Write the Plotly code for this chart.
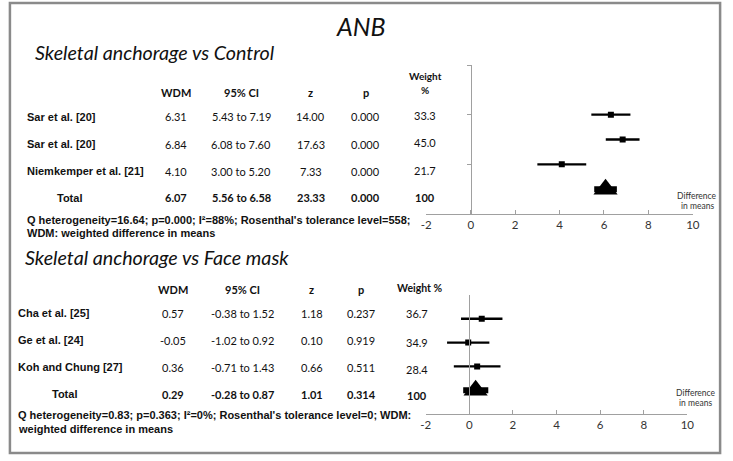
import plotly.graph_objects as go

W, H = 733, 461

# ---------------- data ----------------
title = "ANB"
sec1_title = "Skeletal anchorage vs Control"
sec1_studies = ["Sar et al. [20]", "Sar et al. [20]", "Niemkemper et al. [21]"]
sec1_wdm = [6.31, 6.84, 4.10]
sec1_lo = [5.43, 6.08, 3.00]
sec1_hi = [7.19, 7.60, 5.20]
sec1_z = [14.00, 17.63, 7.33]
sec1_p = [0.000, 0.000, 0.000]
sec1_w = [33.3, 45.0, 21.7]
sec1_total = dict(wdm=6.07, lo=5.56, hi=6.58, z=23.33, p=0.000, w="100")
sec1_note = ["Q heterogeneity=16.64; p=0.000; I²=88%; Rosenthal's tolerance level=558;",
             "WDM: weighted difference in means"]

sec2_title = "Skeletal anchorage vs Face mask"
sec2_studies = ["Cha et al. [25]", "Ge et al. [24]", "Koh and Chung [27]"]
sec2_wdm = [0.57, -0.05, 0.36]
sec2_lo = [-0.38, -1.02, -0.71]
sec2_hi = [1.52, 0.92, 1.43]
sec2_z = [1.18, 0.10, 0.66]
sec2_p = [0.237, 0.919, 0.511]
sec2_w = [36.7, 34.9, 28.4]
sec2_total = dict(wdm=0.29, lo=-0.28, hi=0.87, z=1.01, p=0.314, w="100")
sec2_note = ["Q heterogeneity=0.83; p=0.363; I²=0%; Rosenthal's tolerance level=0; WDM:",
             "weighted difference in means"]

x_ticks = [-2, 0, 2, 4, 6, 8, 10]
x_tick_labels = ["-2", "0", "2", "4", "6", "8", "10"]
x_range = [-2, 10]

# ---------------- helpers ----------------
def PX(px):
    return px / W

def PY(py):
    return 1 - py / H

CAL = "Lato, 'Open Sans', sans-serif"
ARI = "'Liberation Sans', Arial, sans-serif"
BLK = "#111111"

fig = go.Figure()
annotations = []

def txt(x, y, s, size, family=CAL, bold=False, italic=False, anchor="center", color=BLK):
    if bold:
        s = "<b>" + s + "</b>"
    if italic:
        s = "<i>" + s + "</i>"
    annotations.append(dict(x=PX(x), y=PY(y), xref="paper", yref="paper", text=s,
                            showarrow=False, xanchor=anchor, yanchor="middle",
                            borderpad=0, borderwidth=0,
                            font=dict(family=family, size=size, color=color)))

def section(idx, studies, wdm, lo, hi, z, p, w, total, note, sect_title, cfg):
    xa = "x" if idx == 1 else "x2"
    ya = "y" if idx == 1 else "y2"
    n = len(studies)
    ypos = [n + 1 - i for i in range(n)]
    fig.add_trace(go.Scatter(
        x=wdm, y=ypos, mode="markers", xaxis=xa, yaxis=ya,
        marker=dict(symbol="square", size=6, color="black"),
        error_x=dict(type="data", symmetric=False,
                     array=[h - m for h, m in zip(hi, wdm)],
                     arrayminus=[m - l for m, l in zip(wdm, lo)],
                     width=0, thickness=2.4, color="black"),
        showlegend=False, hoverinfo="skip"))
    fig.add_trace(go.Scatter(
        x=[total["lo"], total["hi"]], y=[1, 1], mode="lines", xaxis=xa, yaxis=ya,
        line=dict(color="black", width=6), showlegend=False, hoverinfo="skip"))
    fig.add_trace(go.Scatter(
        x=[total["wdm"]], y=[1], mode="markers", xaxis=xa, yaxis=ya,
        marker=dict(symbol="triangle-up", size=21, color="black"),
        showlegend=False, hoverinfo="skip"))

    txt(cfg["title_x"], cfg["title_y"], sect_title, 19.7, italic=True, anchor="left")
    hy = cfg["hdr_y"]
    cx = cfg["cols"]
    hs = 11
    txt(cx[0], hy, "WDM", hs, bold=True)
    txt(cx[1], hy, "95% CI", hs, bold=True)
    txt(cx[2], hy, "z", hs, bold=True)
    txt(cx[3], hy, "p", hs, bold=True)
    if cfg["weight_split"]:
        txt(cx[4], cfg["w_hdr_y"][0], "Weight", 10, bold=True)
        txt(cx[4], cfg["w_hdr_y"][1], "%", 10, bold=True)
    else:
        txt(cx[4] + 3, cfg["w_hdr_y"][0], "Weight %", 10.5, bold=True)
    rows = cfg["rows"]
    ns = 11
    for i in range(n):
        ry = rows[i]
        txt(cfg["label_x"], ry, studies[i], 11, family=ARI, bold=True, anchor="left")
        txt(cx[0], ry, f"{wdm[i]:.2f}", ns)
        txt(cx[1], ry, f"{lo[i]:.2f} to {hi[i]:.2f}", ns)
        txt(cx[2], ry, f"{z[i]:.2f}", ns)
        txt(cx[3], ry, f"{p[i]:.3f}", ns)
        txt(cx[4], cfg["w_rows"][i], f"{w[i]:.1f}", ns)
    ry = rows[n]
    txt(cfg["total_x"], ry, "Total", 11, family=ARI, bold=True)
    txt(cx[0], ry, f"{total['wdm']:.2f}", ns, bold=True)
    txt(cx[1], ry, f"{total['lo']:.2f} to {total['hi']:.2f}", ns, bold=True)
    txt(cx[2], ry, f"{total['z']:.2f}", ns, bold=True)
    txt(cx[3], ry, f"{total['p']:.3f}", ns, bold=True)
    txt(cx[4], cfg["w_rows"][n], total["w"], ns, bold=True)
    txt(cfg["label_x"], cfg["note_y"][0], note[0], 11, family=ARI, bold=True, anchor="left")
    txt(cfg["label_x"], cfg["note_y"][1], note[1], 11, family=ARI, bold=True, anchor="left")
    txt(cfg["diff_x"], cfg["diff_y"][0], "Difference", 8.5, color="#333333")
    txt(cfg["diff_x"], cfg["diff_y"][1], "in means", 8.5, color="#333333")


cfg1 = dict(title_x=30, title_y=52, hdr_y=93, cols=[174, 240, 311, 367, 427],
            weight_split=True, w_hdr_y=[76.5, 89.5], rows=[117, 144, 171, 198],
            w_rows=[115, 142, 170, 198], label_x=22, total_x=66,
            note_y=[220, 233], diff_x=704, diff_y=[196, 206])
cfg2 = dict(title_x=20, title_y=257, hdr_y=289, cols=[171, 241, 312, 362, 419],
            weight_split=False, w_hdr_y=[288], rows=[313, 340, 367, 394],
            w_rows=[313, 342, 369, 395], label_x=13, total_x=60,
            note_y=[415, 429], diff_x=702, diff_y=[393, 403])

section(1, sec1_studies, sec1_wdm, sec1_lo, sec1_hi, sec1_z, sec1_p, sec1_w,
        sec1_total, sec1_note, sec1_title, cfg1)
section(2, sec2_studies, sec2_wdm, sec2_lo, sec2_hi, sec2_z, sec2_p, sec2_w,
        sec2_total, sec2_note, sec2_title, cfg2)

txt(362, 26, title, 25, italic=True)

AX = "#a0a0a0"
d1x = [428.3, 699.3]
d1y = [214, 65]
d2x = [427.7, 693.7]
d2y = [414, 295]

def xpos_of_zero(d):
    return PX(d[0] + (0 - x_range[0]) / (x_range[1] - x_range[0]) * (d[1] - d[0]))

xcommon = dict(range=x_range, tickvals=x_ticks, ticktext=x_tick_labels,
               showgrid=False, zeroline=False,
               showline=True, linecolor=AX, linewidth=1, ticks="inside", ticklen=4,
               tickcolor=AX, tickfont=dict(family=CAL, size=11.5, color="#333333"),
               fixedrange=True)

fig.update_layout(
    width=W, height=H, margin=dict(l=0, r=0, t=0, b=0),
    paper_bgcolor="white", plot_bgcolor="rgba(0,0,0,0)",
    xaxis=dict(domain=[PX(d1x[0]), PX(d1x[1])], anchor="y", **xcommon),
    yaxis=dict(domain=[PY(d1y[0]), PY(d1y[1])], range=[0, 6], anchor="free",
               position=xpos_of_zero(d1x), showline=True, linecolor=AX, linewidth=1,
               showgrid=False, zeroline=False, tickvals=[2, 4, 6], ticktext=["", "", ""],
               ticks="outside", ticklen=4, tickcolor=AX, fixedrange=True),
    xaxis2=dict(domain=[PX(d2x[0]), PX(d2x[1])], anchor="y2", **xcommon),
    yaxis2=dict(domain=[PY(d2y[0]), PY(d2y[1])], range=[0, 5], anchor="free",
                position=xpos_of_zero(d2x), showline=True, linecolor=AX, linewidth=1,
                showgrid=False, zeroline=False, showticklabels=False, ticks="",
                fixedrange=True),
    annotations=annotations,
    shapes=[dict(type="rect", xref="paper", yref="paper",
                 x0=PX(5), x1=PX(727), y0=PY(453), y1=PY(3),
                 line=dict(color="#8a8a8a", width=2.5), fillcolor="rgba(0,0,0,0)")],
)

fig.write_html("out.html", config={"displayModeBar": False},
               post_script="document.body.style.margin='0';document.body.style.padding='0';document.body.style.overflow='hidden';")
